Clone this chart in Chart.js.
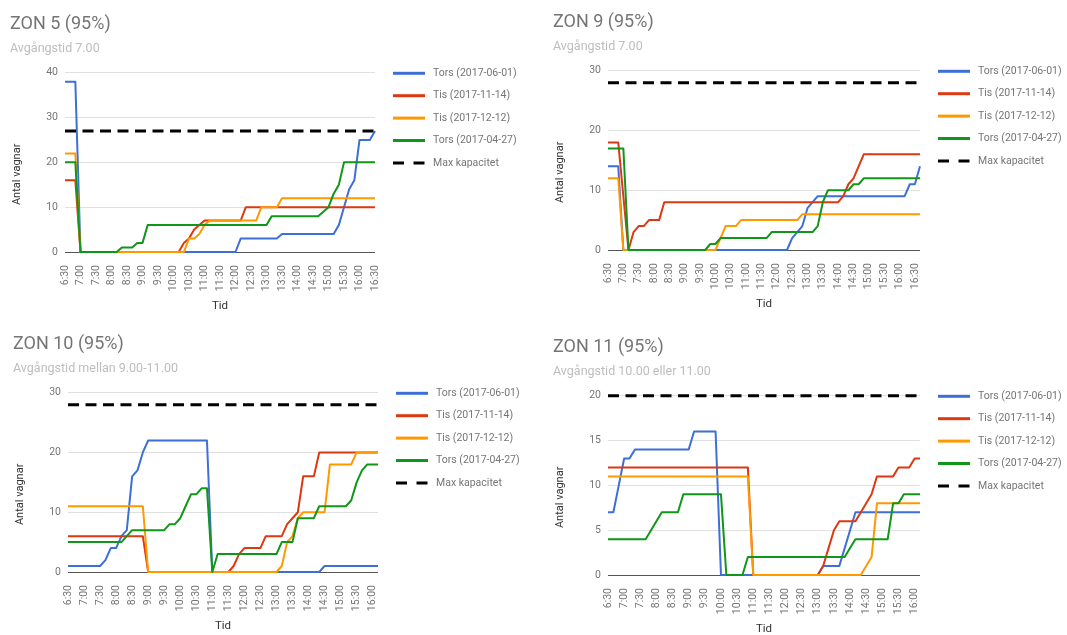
<!DOCTYPE html>
<html>
<head>
<meta charset="utf-8">
<script src="https://cdn.jsdelivr.net/npm/chart.js@4"></script>
<style>
  html, body { margin: 0; padding: 0; background: #fff; width: 1067px; height: 635px; overflow: hidden; }
  canvas { position: absolute; }
</style>
</head>
<body>
<canvas id="zon5" width="533" height="316" style="left:0px;top:0px"></canvas>
<canvas id="zon9" width="524" height="316" style="left:543px;top:-2px"></canvas>
<canvas id="zon10" width="533" height="316" style="left:3px;top:320px"></canvas>
<canvas id="zon11" width="524" height="316" style="left:543px;top:323px"></canvas>
<script>
// time of day, every 10 minutes
const times = [
  '6:30', '6:40', '6:50', '7:00', '7:10', '7:20',
  '7:30', '7:40', '7:50', '8:00', '8:10', '8:20',
  '8:30', '8:40', '8:50', '9:00', '9:10', '9:20',
  '9:30', '9:40', '9:50', '10:00', '10:10', '10:20',
  '10:30', '10:40', '10:50', '11:00', '11:10', '11:20',
  '11:30', '11:40', '11:50', '12:00', '12:10', '12:20',
  '12:30', '12:40', '12:50', '13:00', '13:10', '13:20',
  '13:30', '13:40', '13:50', '14:00', '14:10', '14:20',
  '14:30', '14:40', '14:50', '15:00', '15:10', '15:20',
  '15:30', '15:40', '15:50', '16:00', '16:10', '16:20',
  '16:30', '16:40'
];

const seriesNames = ['Tors (2017-06-01)', 'Tis (2017-11-14)', 'Tis (2017-12-12)', 'Tors (2017-04-27)'];
const maxName = 'Max kapacitet';

// ZON 5
const zon5Tors0601 = [
  38, 38, 38, 0, 0, 0,
  0, 0, 0, 0, 0, 0,
  0, 0, 0, 0, 0, 0,
  0, 0, 0, 0, 0, 0,
  0, 0, 0, 0, 0, 0,
  0, 0, 0, 0, 3, 3,
  3, 3, 3, 3, 3, 3,
  4, 4, 4, 4, 4, 4,
  4, 4, 4, 4, 4, 6,
  10, 14, 16, 25, 25, 25,
  27
];
const zon5Tis1114 = [
  16, 16, 16, 0, 0, 0,
  0, 0, 0, 0, 0, 0,
  0, 0, 0, 0, 0, 0,
  0, 0, 0, 0, 0, 2,
  3, 5, 6, 7, 7, 7,
  7, 7, 7, 7, 7, 10,
  10, 10, 10, 10, 10, 10,
  10, 10, 10, 10, 10, 10,
  10, 10, 10, 10, 10, 10,
  10, 10, 10, 10, 10, 10,
  10
];
const zon5Tis1212 = [
  22, 22, 22, 0, 0, 0,
  0, 0, 0, 0, 0, 0,
  0, 0, 0, 0, 0, 0,
  0, 0, 0, 0, 0, 0,
  3, 3, 4, 6, 7, 7,
  7, 7, 7, 7, 7, 7,
  7, 7, 10, 10, 10, 10,
  12, 12, 12, 12, 12, 12,
  12, 12, 12, 12, 12, 12,
  12, 12, 12, 12, 12, 12,
  12
];
const zon5Tors0427 = [
  20, 20, 20, 0, 0, 0,
  0, 0, 0, 0, 0, 1,
  1, 1, 2, 2, 6, 6,
  6, 6, 6, 6, 6, 6,
  6, 6, 6, 6, 6, 6,
  6, 6, 6, 6, 6, 6,
  6, 6, 6, 6, 8, 8,
  8, 8, 8, 8, 8, 8,
  8, 8, 9, 10, 13, 15,
  20, 20, 20, 20, 20, 20,
  20
];
const zon5Max = 27;

// ZON 9
const zon9Tors0601 = [
  14, 14, 14, 0, 0, 0,
  0, 0, 0, 0, 0, 0,
  0, 0, 0, 0, 0, 0,
  0, 0, 0, 0, 0, 0,
  0, 0, 0, 0, 0, 0,
  0, 0, 0, 0, 0, 0,
  2, 3, 4, 7, 8, 9,
  9, 9, 9, 9, 9, 9,
  9, 9, 9, 9, 9, 9,
  9, 9, 9, 9, 9, 11,
  11, 14
];
const zon9Tis1114 = [
  18, 18, 18, 9, 0, 3,
  4, 4, 5, 5, 5, 8,
  8, 8, 8, 8, 8, 8,
  8, 8, 8, 8, 8, 8,
  8, 8, 8, 8, 8, 8,
  8, 8, 8, 8, 8, 8,
  8, 8, 8, 8, 8, 8,
  8, 8, 8, 8, 9, 11,
  12, 14, 16, 16, 16, 16,
  16, 16, 16, 16, 16, 16,
  16, 16
];
const zon9Tis1212 = [
  12, 12, 12, 0, 0, 0,
  0, 0, 0, 0, 0, 0,
  0, 0, 0, 0, 0, 0,
  0, 0, 0, 0, 2, 4,
  4, 4, 5, 5, 5, 5,
  5, 5, 5, 5, 5, 5,
  5, 5, 6, 6, 6, 6,
  6, 6, 6, 6, 6, 6,
  6, 6, 6, 6, 6, 6,
  6, 6, 6, 6, 6, 6,
  6, 6
];
const zon9Tors0427 = [
  17, 17, 17, 17, 0, 0,
  0, 0, 0, 0, 0, 0,
  0, 0, 0, 0, 0, 0,
  0, 0, 1, 1, 2, 2,
  2, 2, 2, 2, 2, 2,
  2, 2, 3, 3, 3, 3,
  3, 3, 3, 3, 3, 4,
  8, 10, 10, 10, 10, 10,
  11, 11, 12, 12, 12, 12,
  12, 12, 12, 12, 12, 12,
  12, 12
];
const zon9Max = 28;

// ZON 10
const zon10Tors0601 = [
  1, 1, 1, 1, 1, 1,
  1, 2, 4, 4, 6, 7,
  16, 17, 20, 22, 22, 22,
  22, 22, 22, 22, 22, 22,
  22, 22, 22, 0, 0, 0,
  0, 0, 0, 0, 0, 0,
  0, 0, 0, 0, 0, 0,
  0, 0, 0, 0, 0, 0,
  1, 1, 1, 1, 1, 1,
  1, 1, 1, 1, 1
];
const zon10Tis1114 = [
  6, 6, 6, 6, 6, 6,
  6, 6, 6, 6, 6, 6,
  6, 6, 6, 0, 0, 0,
  0, 0, 0, 0, 0, 0,
  0, 0, 0, 0, 0, 0,
  0, 1, 3, 4, 4, 4,
  4, 6, 6, 6, 6, 8,
  9, 10, 16, 16, 16, 20,
  20, 20, 20, 20, 20, 20,
  20, 20, 20, 20, 20
];
const zon10Tis1212 = [
  11, 11, 11, 11, 11, 11,
  11, 11, 11, 11, 11, 11,
  11, 11, 11, 0, 0, 0,
  0, 0, 0, 0, 0, 0,
  0, 0, 0, 0, 0, 0,
  0, 0, 0, 0, 0, 0,
  0, 0, 0, 0, 1, 5,
  6, 9, 10, 10, 10, 10,
  10, 18, 18, 18, 18, 18,
  20, 20, 20, 20, 20
];
const zon10Tors0427 = [
  5, 5, 5, 5, 5, 5,
  5, 5, 5, 5, 5, 6,
  7, 7, 7, 7, 7, 7,
  7, 8, 8, 9, 11, 13,
  13, 14, 14, 0, 3, 3,
  3, 3, 3, 3, 3, 3,
  3, 3, 3, 3, 5, 5,
  5, 9, 9, 9, 9, 11,
  11, 11, 11, 11, 11, 12,
  15, 17, 18, 18, 18
];
const zon10Max = 28;

// ZON 11
const zon11Tors0601 = [
  7, 7, 10, 13, 13, 14,
  14, 14, 14, 14, 14, 14,
  14, 14, 14, 14, 16, 16,
  16, 16, 16, 0, 0, 0,
  0, 0, 0, 0, 0, 0,
  0, 0, 0, 0, 0, 0,
  0, 0, 0, 0, 1, 1,
  1, 1, 3, 5, 7, 7,
  7, 7, 7, 7, 7, 7,
  7, 7, 7, 7, 7
];
const zon11Tis1114 = [
  12, 12, 12, 12, 12, 12,
  12, 12, 12, 12, 12, 12,
  12, 12, 12, 12, 12, 12,
  12, 12, 12, 12, 12, 12,
  12, 12, 12, 0, 0, 0,
  0, 0, 0, 0, 0, 0,
  0, 0, 0, 0, 1, 3,
  5, 6, 6, 6, 6, 7,
  8, 9, 11, 11, 11, 11,
  12, 12, 12, 13, 13
];
const zon11Tis1212 = [
  11, 11, 11, 11, 11, 11,
  11, 11, 11, 11, 11, 11,
  11, 11, 11, 11, 11, 11,
  11, 11, 11, 11, 11, 11,
  11, 11, 11, 0, 0, 0,
  0, 0, 0, 0, 0, 0,
  0, 0, 0, 0, 0, 0,
  0, 0, 0, 0, 0, 0,
  1, 2, 8, 8, 8, 8,
  8, 8, 8, 8, 8
];
const zon11Tors0427 = [
  4, 4, 4, 4, 4, 4,
  4, 4, 5, 6, 7, 7,
  7, 7, 9, 9, 9, 9,
  9, 9, 9, 9, 0, 0,
  0, 0, 2, 2, 2, 2,
  2, 2, 2, 2, 2, 2,
  2, 2, 2, 2, 2, 2,
  2, 2, 2, 3, 4, 4,
  4, 4, 4, 4, 4, 8,
  8, 9, 9, 9, 9
];
const zon11Max = 20;

const colors = ['#3d6fd6', '#dc3912', '#ff9900', '#109618'];

Chart.defaults.font.family = 'Roboto';

// legend to the right of the plot, one row per dataset,
// plus the y axis title, which sits a bit below the plot centre
const sideLegend = {
  id: 'sideLegend',
  afterDraw(chart, args, opts) {
    const { ctx, chartArea } = chart;
    const x = chartArea.right + opts.offset;
    ctx.save();
    ctx.font = opts.size + 'px Roboto';
    ctx.textBaseline = 'middle';
    chart.data.datasets.forEach((ds, i) => {
      const y = chartArea.top + 0.6 + i * opts.spacing;
      ctx.strokeStyle = ds.borderColor;
      ctx.lineWidth = 3;
      ctx.setLineDash(ds.borderDash ? [11, 9.5] : []);
      ctx.beginPath();
      ctx.moveTo(x, y);
      ctx.lineTo(x + 32, y);
      ctx.stroke();
      ctx.fillStyle = opts.color;
      ctx.fillText(ds.label, x + 40, y);
    });

    ctx.translate(chartArea.left - 47.5, (chartArea.top + chartArea.bottom) / 2 + 12);
    ctx.rotate(-Math.PI / 2);
    ctx.font = '11px Roboto';
    ctx.textAlign = 'center';
    ctx.fillStyle = '#333333';
    ctx.fillText(opts.yTitle, 0, 0);
    ctx.restore();
  }
};

function makeChart(id, title, subtitle, series, maxCap, yMax, yStep, padRight) {
  const labels = times.slice(0, series[0].length);
  const datasets = series.map((data, i) => ({
    label: seriesNames[i],
    data: data,
    borderColor: colors[i],
    borderWidth: 2,
    borderJoinStyle: 'round',
    pointRadius: 0,
    tension: 0,
    fill: false,
    clip: 4,
    order: -i
  }));
  datasets.push({
    label: maxName,
    data: [{ x: labels[0], y: maxCap }, { x: labels[labels.length - 1], y: maxCap }],
    borderColor: '#000000',
    borderWidth: 3,
    borderDash: [11, 6.5],
    pointRadius: 0,
    fill: false,
    clip: 4,
    order: -4
  });

  return new Chart(document.getElementById(id), {
    type: 'line',
    data: { labels: labels, datasets: datasets },
    plugins: [sideLegend],
    options: {
      responsive: false,
      animation: false,
      devicePixelRatio: 1,
      layout: { padding: { left: 10, right: padRight, top: 0, bottom: 0 } },
      plugins: {
        legend: { display: false },
        tooltip: { enabled: false },
        title: {
          display: true, text: title, align: 'start', color: '#757575',
          font: { size: 18, weight: 'normal' }, padding: { top: 13.7, bottom: 1 }
        },
        subtitle: {
          display: true, text: subtitle, align: 'start', color: '#bdbdbd',
          font: { size: 12.5, weight: 'normal' }, padding: { top: 4.7, bottom: 16.7 }
        },
        sideLegend: { offset: 18, spacing: 22.4, size: 10.5, color: '#757575', yTitle: 'Antal vagnar' }
      },
      scales: {
        x: {
          grid: { display: false },
          border: { display: false },
          ticks: {
            autoSkip: false, minRotation: 90, maxRotation: 90, padding: 5,
            color: '#757575', font: { size: 10.5 },
            callback: function (value, index) {
              return index % 3 === 0 ? this.getLabelForValue(value) : '';
            }
          },
          title: { display: true, text: 'Tid', color: '#333333', font: { size: 11.5 }, padding: { top: 0, bottom: 3 } },
          afterFit: function (scale) { scale.height = 64; }
        },
        y: {
          min: 0,
          max: yMax,
          ticks: { stepSize: yStep, padding: 7, color: '#757575', font: { size: 10.5 } },
          grid: {
            drawTicks: false,
            color: (c) => (c.tick.value === 0 ? '#555555' : '#e0e0e0')
          },
          border: { display: false },
          title: { display: false },
          afterFit: function (scale) { scale.width = 55; }
        }
      }
    }
  });
}

makeChart('zon5', 'ZON 5 (95%)', 'Avgångstid 7.00',
  [zon5Tors0601, zon5Tis1114, zon5Tis1212, zon5Tors0427], zon5Max, 40, 10, 158);
makeChart('zon9', 'ZON 9 (95%)', 'Avgångstid 7.00',
  [zon9Tors0601, zon9Tis1114, zon9Tis1212, zon9Tors0427], zon9Max, 30, 10, 147);
makeChart('zon10', 'ZON 10 (95%)', 'Avgångstid mellan 9.00-11.00',
  [zon10Tors0601, zon10Tis1114, zon10Tis1212, zon10Tors0427], zon10Max, 30, 10, 158);
makeChart('zon11', 'ZON 11 (95%)', 'Avgångstid 10.00 eller 11.00',
  [zon11Tors0601, zon11Tis1114, zon11Tis1212, zon11Tors0427], zon11Max, 20, 5, 147);
</script>
</body>
</html>
